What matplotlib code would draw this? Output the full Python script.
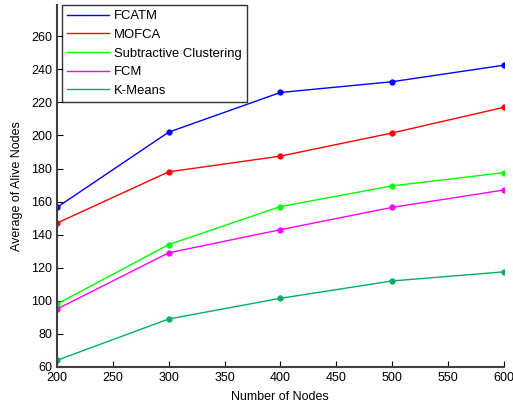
import matplotlib
matplotlib.use("Agg")
import matplotlib.pyplot as plt

plt.rcParams['font.family'] = ['Liberation Sans', 'DejaVu Sans']

# Datos
nodes = [200, 300, 400, 500, 600]
fcatm = [156.5, 202, 226, 232.5, 242.5]
mofca = [147, 178, 187.5, 201.5, 217]
subtractive = [98, 134, 157, 169.5, 177.5]
fcm = [95, 129, 143, 156.5, 167]
kmeans = [64, 89, 101.5, 112, 117.5]

labels = ['FCATM', 'MOFCA', 'Subtractive Clustering', 'FCM', 'K-Means']
colors = ['#0000ff', '#ff0000', '#00ff00', '#ff00ff', '#00b060']
series = [fcatm, mofca, subtractive, fcm, kmeans]

fig = plt.figure(figsize=(5.13, 4.05), dpi=100)
ax = fig.add_axes([0.111, 0.094, 0.871, 0.894])

for vals, lab, col in zip(series, labels, colors):
    ax.plot(nodes, vals, color=col, lw=1.0, marker='o', markersize=3.5, label=lab)

ax.set_xlim(200, 600)
ax.set_ylim(60, 279)
ax.set_xticks(range(200, 601, 50))
ax.set_yticks(range(60, 261, 20))
ax.tick_params(direction='in', length=4, labelsize=9, width=0.8)
ax.spines['top'].set_visible(False)
ax.spines['right'].set_visible(False)
ax.spines['left'].set_color('#404040')
ax.spines['bottom'].set_color('#404040')
ax.spines['left'].set_linewidth(1.5)
ax.spines['bottom'].set_linewidth(1.5)

ax.set_xlabel('Number of Nodes', fontsize=9, labelpad=5)
ax.set_ylabel('Average of Alive Nodes', fontsize=9, labelpad=6)

leg = ax.legend(loc='upper left', bbox_to_anchor=(0.011, 1.0), fontsize=9.4,
                frameon=True, fancybox=False, edgecolor='black',
                handlelength=3.2, handletextpad=0.4, labelspacing=0.5,
                borderpad=0.4, borderaxespad=0)
leg.get_frame().set_linewidth(1.0)
for h in leg.legend_handles:
    h.set_marker('')

fig.savefig('out.png', dpi=100)
